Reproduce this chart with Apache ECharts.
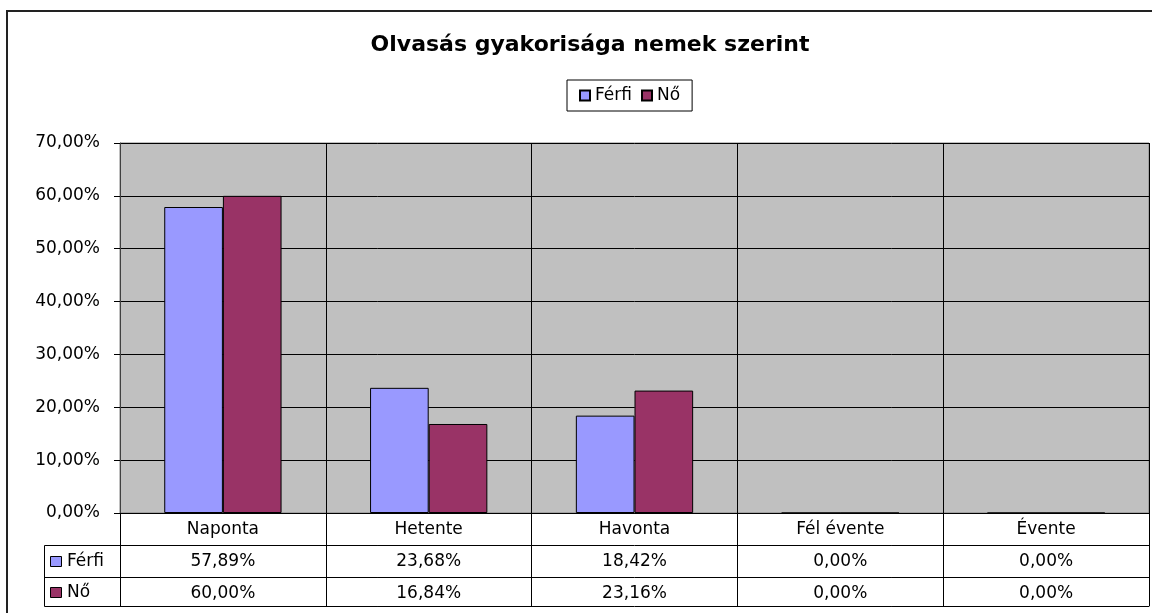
<!DOCTYPE html>
<html>
<head>
<meta charset="utf-8">
<title>Olvasás gyakorisága nemek szerint</title>
<script src="https://cdn.jsdelivr.net/npm/echarts/dist/echarts.min.js"></script>
<style>
    html, body { margin: 0; padding: 0; background: #fff; }
    #chart { width: 1152px; height: 613px; }
</style>
</head>
<body>
<div id="chart"></div>
<script>
var categories = ['Naponta', 'Hetente', 'Havonta', 'Fél évente', 'Évente'];
var seriesNames = ['Férfi', 'Nő'];
var ferfi = [57.89, 23.68, 18.42, 0.00, 0.00];
var no = [60.00, 16.84, 23.16, 0.00, 0.00];
var colors = ['#9999ff', '#993366'];

var font = 'DejaVu Sans';

function pct(v) {
    return v.toFixed(2).replace('.', ',') + '%';
}

// table rows under the plot: y of the lines (axis at 513)
var rowLines = [545, 577, 606];

var chart = echarts.init(document.getElementById('chart'));
var option = {
    animation: false,
    backgroundColor: '#fff',
    title: {
        text: 'Olvasás gyakorisága nemek szerint',
        left: 585,
        top: 29,
        textAlign: 'center',
        textStyle: {
            fontFamily: font,
            fontSize: 22,
            fontWeight: 'bold',
            color: '#000'
        }
    },
    legend: {
        data: seriesNames,
        left: 567,
        top: 80,
        padding: [7, 12],
        itemGap: 9,
        itemWidth: 10,
        itemHeight: 10,
        icon: 'rect',
        borderColor: '#000',
        borderWidth: 1,
        backgroundColor: '#fff',
        textStyle: {
            fontFamily: font,
            fontSize: 17,
            color: '#000'
        }
    },
    grid: {
        left: 120,
        right: 3,
        top: 143,
        bottom: 100,
        show: true,
        backgroundColor: '#c0c0c0',
        borderColor: '#808080',
        borderWidth: 1,
        containLabel: false,
        outerBoundsMode: 'none'
    },
    xAxis: [
        {
            type: 'category',
            data: categories,
            position: 'bottom',
            axisLine: { show: true, lineStyle: { color: '#000' } },
            axisTick: {
                show: true,
                interval: 0,
                length: 93,
                lineStyle: { color: '#000' }
            },
            axisLabel: {
                interval: 0,
                margin: 8,
                fontFamily: font,
                fontSize: 17,
                color: '#000'
            },
            splitLine: { show: true, interval: 0, lineStyle: { color: '#000' } }
        },
        {
            type: 'category',
            data: categories,
            position: 'bottom',
            offset: rowLines[0] - 513,
            axisLine: { show: true, lineStyle: { color: '#000' } },
            axisTick: { show: false },
            axisLabel: {
                interval: 0,
                margin: 8,
                fontFamily: font,
                fontSize: 17,
                color: '#000',
                formatter: function(v, i) { return pct(ferfi[i]); }
            },
            splitLine: { show: false }
        },
        {
            type: 'category',
            data: categories,
            position: 'bottom',
            offset: rowLines[1] - 513,
            axisLine: { show: true, lineStyle: { color: '#000' } },
            axisTick: { show: false },
            axisLabel: {
                interval: 0,
                margin: 8,
                fontFamily: font,
                fontSize: 17,
                color: '#000',
                formatter: function(v, i) { return pct(no[i]); }
            },
            splitLine: { show: false }
        },
        {
            type: 'category',
            data: categories,
            position: 'bottom',
            offset: rowLines[2] - 513,
            axisLine: { show: true, lineStyle: { color: '#000' } },
            axisTick: { show: false },
            axisLabel: { show: false },
            splitLine: { show: false }
        }
    ],
    yAxis: {
        type: 'value',
        min: 0,
        max: 70,
        interval: 10,
        axisLine: { show: true, lineStyle: { color: '#404040' } },
        axisTick: { show: true, length: 6, lineStyle: { color: '#000' } },
        axisLabel: {
            margin: 20,
            fontFamily: font,
            fontSize: 17,
            color: '#000',
            formatter: function(v) { return pct(v); }
        },
        splitLine: { show: true, lineStyle: { color: '#000' } }
    },
    series: [
        {
            name: seriesNames[0],
            type: 'bar',
            xAxisIndex: 0,
            data: ferfi,
            barGap: '0%',
            barCategoryGap: '43%',
            itemStyle: { color: colors[0], borderColor: '#000', borderWidth: 1 }
        },
        {
            name: seriesNames[1],
            type: 'bar',
            xAxisIndex: 0,
            data: no,
            barGap: '0%',
            barCategoryGap: '43%',
            itemStyle: { color: colors[1], borderColor: '#000', borderWidth: 1 }
        }
    ],
    graphic: [
        // chart frame
        {
            type: 'rect', silent: true, z: 100,
            shape: { x: 7, y: 11, width: 1170, height: 630 },
            style: { fill: 'none', stroke: '#222', lineWidth: 2 }
        },
        // row header box of the data table
        {
            type: 'line', silent: true,
            shape: { x1: 44.5, y1: rowLines[0] + 0.5, x2: 44.5, y2: rowLines[2] + 0.5 },
            style: { stroke: '#000', lineWidth: 1 }
        },
        {
            type: 'line', silent: true,
            shape: { x1: 44.5, y1: rowLines[0] + 0.5, x2: 120, y2: rowLines[0] + 0.5 },
            style: { stroke: '#000', lineWidth: 1 }
        },
        {
            type: 'line', silent: true,
            shape: { x1: 44.5, y1: rowLines[1] + 0.5, x2: 120, y2: rowLines[1] + 0.5 },
            style: { stroke: '#000', lineWidth: 1 }
        },
        {
            type: 'line', silent: true,
            shape: { x1: 44.5, y1: rowLines[2] + 0.5, x2: 120, y2: rowLines[2] + 0.5 },
            style: { stroke: '#000', lineWidth: 1 }
        },
        {
            type: 'rect', silent: true,
            shape: { x: 50.5, y: 556.5, width: 11, height: 10 },
            style: { fill: colors[0], stroke: '#000', lineWidth: 1 }
        },
        {
            type: 'text', silent: true,
            x: 67, y: 562,
            style: { text: seriesNames[0], fontFamily: font, fontSize: 17, fill: '#000', verticalAlign: 'middle' }
        },
        {
            type: 'rect', silent: true,
            shape: { x: 50.5, y: 587.5, width: 11, height: 10 },
            style: { fill: colors[1], stroke: '#000', lineWidth: 1 }
        },
        {
            type: 'text', silent: true,
            x: 67, y: 593,
            style: { text: seriesNames[1], fontFamily: font, fontSize: 17, fill: '#000', verticalAlign: 'middle' }
        }
    ]
};
chart.setOption(option);
</script>
</body>
</html>
